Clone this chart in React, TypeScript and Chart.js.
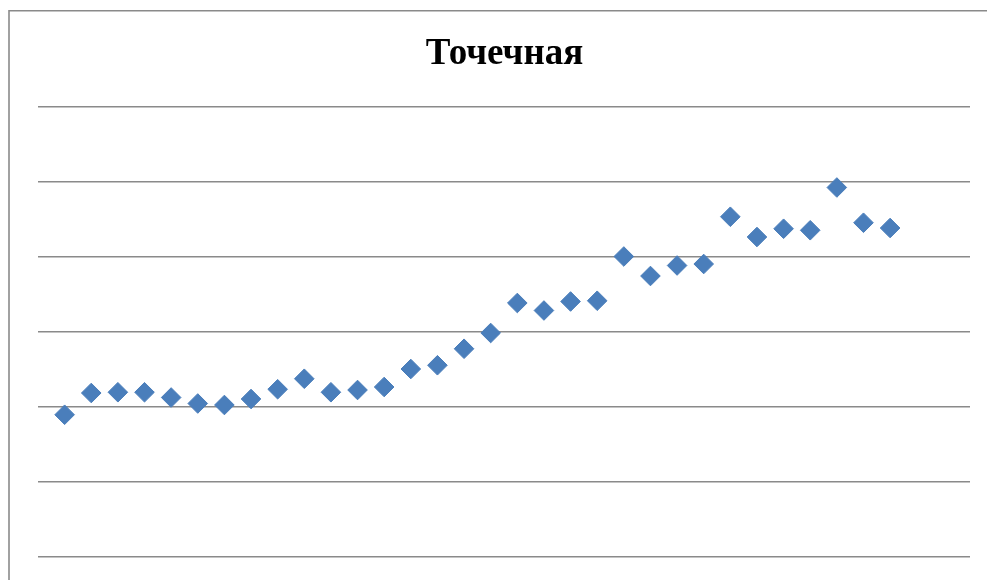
import React, { useEffect, useRef } from "react";
import { Chart, registerables } from "chart.js";

Chart.register(...registerables);

const titleText = "Точечная";
const xValues = [1, 2, 3, 4, 5, 6, 7, 8, 9, 10, 11, 12, 13, 14, 15, 16, 17, 18, 19, 20, 21, 22, 23, 24, 25, 26, 27, 28, 29, 30, 31, 32];
const yValues = [28.9, 31.8, 31.9, 31.9, 31.2, 30.4, 30.2, 31.0, 32.3, 33.7, 31.9, 32.2, 32.6, 35.0, 35.5, 37.7, 39.8, 43.8, 42.8, 44.0, 44.1, 50.0, 47.4, 48.8, 49.0, 55.3, 52.6, 53.7, 53.5, 59.2, 54.5, 53.8];
const yTicks = [10, 20, 30, 40, 50, 60, 70];
const xMin = 0;
const xMax = 35;
const yMax = 70;
const yMin = 6.867;

const framePlugin = {
  id: "frame",
  beforeDraw(chart: any) {
    const ctx = chart.ctx;
    ctx.save();
    ctx.fillStyle = "#ffffff";
    ctx.fillRect(0, 0, chart.width, chart.height);
    ctx.strokeStyle = "#8a8a8a";
    ctx.lineWidth = 1.6;
    ctx.beginPath();
    ctx.moveTo(9, chart.height);
    ctx.lineTo(9, 10.8);
    ctx.lineTo(chart.width, 10.8);
    ctx.stroke();
    ctx.restore();
  },
  afterDraw(chart: any) {
    const ctx = chart.ctx;
    const area = chart.chartArea;
    ctx.save();
    ctx.fillStyle = "#000000";
    ctx.font = "bold 37px 'Liberation Serif', 'Times New Roman', serif";
    ctx.textAlign = "center";
    ctx.textBaseline = "alphabetic";
    ctx.fillText(titleText, (area.left + area.right) / 2 + 0.5, 64);
    ctx.restore();
  },
};

export default function App() {
  const ref = useRef<HTMLCanvasElement | null>(null);
  useEffect(() => {
    if (!ref.current) return;
    const chart = new Chart(ref.current, {
      type: "scatter",
      data: {
        datasets: [
          {
            data: xValues.map((x, i) => ({ x, y: yValues[i] })),
            pointStyle: "rectRot",
            pointRadius: 9.8,
            pointHoverRadius: 9.8,
            backgroundColor: "#4a7ebb",
            borderColor: "#4a7ebb",
            borderWidth: 1,
          },
        ],
      },
      options: {
        animation: false,
        responsive: false,
        maintainAspectRatio: false,
        layout: { autoPadding: false, padding: { left: 38, right: 17, top: 106.5, bottom: 0 } },
        plugins: {
          legend: { display: false },
          tooltip: { enabled: false },
          title: { display: false },
        },
        scales: {
          x: {
            type: "linear",
            min: xMin,
            max: xMax,
            display: false,
          },
          y: {
            type: "linear",
            min: yMin,
            max: yMax,
            afterBuildTicks: (scale: any) => {
              scale.ticks = yTicks.map((v) => ({ value: v }));
            },
            afterFit: (scale: any) => {
              scale.width = 0;
            },
            ticks: { display: false },
            border: { display: false },
            grid: { color: "#8a8a8a", lineWidth: 1.6, drawTicks: false },
          },
        },
      },
      plugins: [framePlugin],
    });
    return () => chart.destroy();
  }, []);
  return (
    <div style={{ position: "absolute", left: 0, top: 0, width: 987, height: 580 }}>
      <canvas ref={ref} width={987} height={580} style={{ display: "block" }} />
    </div>
  );
}
